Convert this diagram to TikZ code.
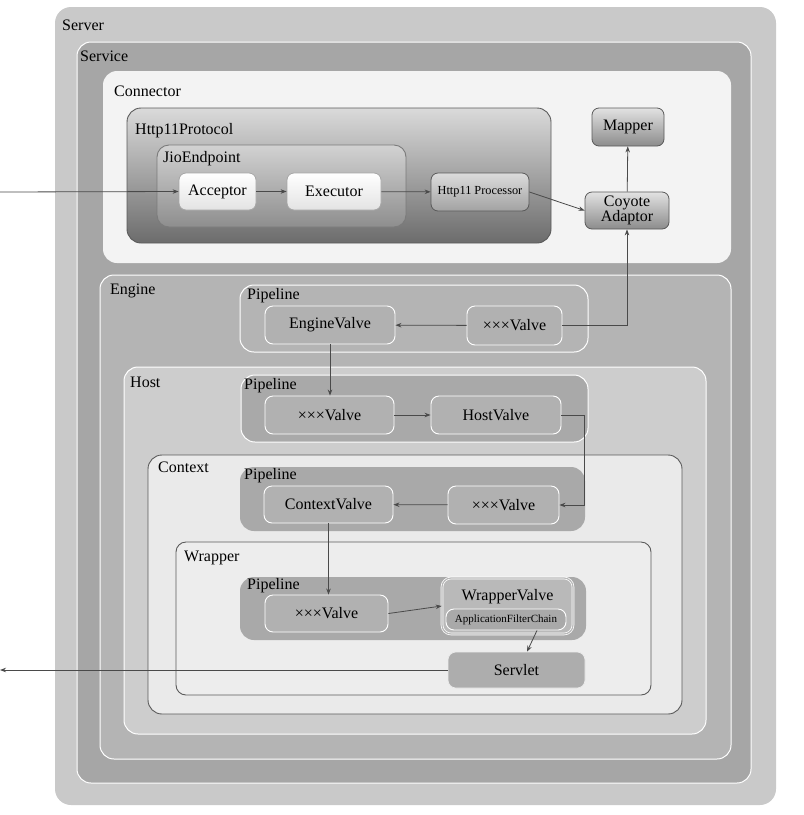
\documentclass[tikz,border=0pt]{standalone}
\usepackage{fontspec}
\setmainfont{Liberation Serif}
\usetikzlibrary{arrows.meta}
\definecolor{srvfill}{HTML}{C9C9C9}
\definecolor{svcfill}{HTML}{A6A6A6}
\definecolor{conffill}{HTML}{F3F3F3}
\definecolor{engfill}{HTML}{B4B4B4}
\definecolor{hostfill}{HTML}{CDCDCD}
\definecolor{ctxfill}{HTML}{EAEAEA}
\definecolor{wrpfill}{HTML}{EDEDED}
\definecolor{pipefill}{HTML}{A9A9A9}
\definecolor{valvefill}{HTML}{B1B1B1}
\definecolor{linec}{HTML}{4A4A4A}
\definecolor{edgec}{HTML}{5A5A5A}
\definecolor{protop}{HTML}{DADADA}
\definecolor{probot}{HTML}{6C6C6C}
\definecolor{jiotop}{HTML}{D2D2D2}
\definecolor{jiobot}{HTML}{8E8E8E}
\definecolor{mtop}{HTML}{E2E2E2}
\definecolor{mbot}{HTML}{8C8C8C}
\definecolor{ptop}{HTML}{DCDCDC}
\definecolor{pbot}{HTML}{A2A2A2}
\begin{document}
\begin{tikzpicture}[x=1pt,y=-1pt,
  box/.style={rectangle, inner sep=0pt, rounded corners=#1},
  box/.default=10pt,
  lbl/.style={anchor=west, inner sep=0pt, font=\fontsize{16}{18}\selectfont},
  txt/.style={font=\fontsize{16}{18}\selectfont, align=center},
  valve/.style={box=8pt, fill=valvefill, draw=white, line width=0.9pt, txt},
  flow/.style={draw=linec, line width=0.8pt, -{Stealth[length=6pt,width=4.5pt]}}
]
\useasboundingbox (0,0) rectangle (804,815);

% containers
\node[box=16pt, fill=srvfill, minimum width=721, minimum height=798] (server) at (415.5,406) {};
\node[lbl] (serverlbl) at (62,25) {Server};
\node[box=14pt, fill=svcfill, draw=white, line width=1pt, minimum width=674, minimum height=741] (service) at (414,412.5) {};
\node[lbl] (servicelbl) at (80,56) {Service};
\node[box=14pt, fill=conffill, minimum width=628, minimum height=192] (connector) at (417,167) {};
\node[lbl] (connectorlbl) at (114,91) {Connector};

\node[box=14pt, draw=edgec, line width=0.9pt, top color=protop, bottom color=probot, minimum width=424, minimum height=135] (http) at (339,175.5) {};
\node[lbl] (httplbl) at (135,131) {Http11Protocol};
\node[box=12pt, draw=edgec!80, line width=0.9pt, top color=jiotop, bottom color=jiobot, minimum width=249, minimum height=82] (jio) at (281.5,186) {};
\node[lbl] (jiolbl) at (163,159) {JioEndpoint};

\node[box=7pt, draw=gray!70, line width=0.8pt, top color=white, bottom color=gray!22, minimum width=77, minimum height=37, txt] (acceptor) at (217.5,191.5) {Acceptor};
\node[box=7pt, draw=gray!70, line width=0.8pt, top color=white, bottom color=gray!22, minimum width=94, minimum height=37, txt] (executor) at (334,191.5) {Executor};
\node[box=7pt, draw=edgec, line width=0.8pt, top color=ptop, bottom color=pbot, minimum width=98, minimum height=38, txt, font=\fontsize{12.3}{14}\selectfont] (proc) at (480,192) {Http11 Processor};
\node[box=7pt, draw=edgec, line width=0.8pt, top color=mtop, bottom color=mbot, minimum width=72, minimum height=38, txt] (mapper) at (628,127) {Mapper};
\node[box=7pt, draw=edgec, line width=0.8pt, top color=mtop, bottom color=mbot, minimum width=84, minimum height=37, txt, font=\fontsize{16}{15}\selectfont] (coyote) at (627,210.5) {Coyote\\Adaptor};

% Engine
\node[box=14pt, fill=engfill, draw=white, line width=1pt, minimum width=631, minimum height=484] (engine) at (415.5,517) {};
\node[lbl] (enginelbl) at (110,291) {Engine};
\node[box=14pt, fill=engfill, draw=white, line width=1pt, minimum width=348, minimum height=67] (epipe) at (414,318.5) {};
\node[lbl] (epipelbl) at (247,296) {Pipeline};
\node[valve, minimum width=130, minimum height=38] (ev) at (330,325) {EngineValve};
\node[valve, minimum width=95, minimum height=39] (exv) at (514.5,325.5) {×××Valve};

% Host
\node[box=14pt, fill=hostfill, draw=white, line width=1pt, minimum width=582, minimum height=367] (host) at (415,550.5) {};
\node[lbl] (hostlbl) at (130,382) {Host};
\node[box=14pt, fill=pipefill, draw=white, line width=1pt, minimum width=347, minimum height=67] (hpipe) at (414.5,408.5) {};
\node[lbl] (hpipelbl) at (244,386) {Pipeline};
\node[valve, minimum width=129, minimum height=38] (hxv) at (329.5,415) {×××Valve};
\node[valve, minimum width=130, minimum height=38] (hv) at (496,415) {HostValve};

% Context
\node[box=14pt, fill=ctxfill, draw=edgec, line width=0.9pt, minimum width=534, minimum height=259] (context) at (415,584.5) {};
\node[lbl] (contextlbl) at (158,467) {Context};
\node[box=14pt, fill=pipefill, minimum width=345, minimum height=64] (cpipe) at (412.5,499) {};
\node[lbl] (cpipelbl) at (244,476) {Pipeline};
\node[valve, minimum width=129, minimum height=37] (cv) at (328.5,504.5) {ContextValve};
\node[valve, minimum width=111, minimum height=38] (cxv) at (503.5,505) {×××Valve};

% Wrapper
\node[box=10pt, fill=wrpfill, draw=edgec, line width=0.9pt, minimum width=475, minimum height=153] (wrapper) at (413.5,618.5) {};
\node[lbl] (wrapperlbl) at (184,558) {Wrapper};
\node[box=14pt, fill=pipefill, minimum width=346, minimum height=63] (wpipe) at (413,608.5) {};
\node[lbl] (wpipelbl) at (247,586) {Pipeline};
\node[valve, minimum width=123, minimum height=37] (wxv) at (326.5,613.5) {×××Valve};
\node[box=9pt, fill=valvefill!90!white, draw=white, line width=0.7pt, double=valvefill!90!white, double distance=1.2pt, minimum width=131, minimum height=56] (wv) at (507.5,606) {};
\node[txt, inner sep=0pt] (wvlbl) at (507.5,597) {WrapperValve};
\node[box=8pt, fill=pipefill, draw=white, line width=0.9pt, minimum width=120, minimum height=21, font=\fontsize{11}{12}\selectfont] (afc) at (506,619.5) {ApplicationFilterChain};
\node[box=8pt, fill=pipefill!95!white, draw=white!85!gray, line width=0.6pt, minimum width=137, minimum height=36, txt] (servlet) at (516.5,670) {Servlet};

% connectors
\coordinate (inpt) at (0,192);
\coordinate (outpt) at (0,670);
\draw[flow] (inpt) -- (acceptor.west);
\draw[flow] (acceptor) -- (executor);
\draw[flow] (executor) -- (proc);
\draw[flow] (proc.east) -- (coyote.west);
\draw[flow] (coyote) -- (mapper);
\draw[flow] (exv.east) -| (coyote.south);
\draw[flow] (exv) -- (ev);
\draw[flow] (ev.south) -- (ev.south |- hxv.north);
\draw[flow] (hxv) -- (hv);
\draw[flow] (hv.east) -- ++(23,0) |- (cxv.east);
\draw[flow] (cxv) -- (cv);
\draw[flow] (cv.south) -- (cv.south |- wxv.north);
\draw[flow] (wxv.east) -- (wv.west);
\draw[flow] ([xshift=31pt]afc.south) -- ([xshift=10.5pt]servlet.north);
\draw[flow] (servlet.west) -- (outpt);
\end{tikzpicture}
\end{document}
